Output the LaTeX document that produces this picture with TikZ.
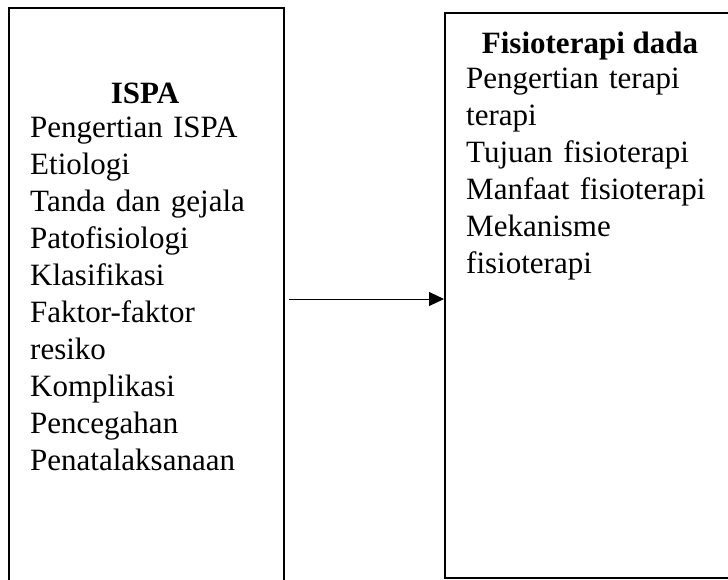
\documentclass[tikz,border=0pt]{standalone}
\usepackage{fontspec}
\setmainfont{Liberation Serif}
\usetikzlibrary{arrows.meta,positioning}

\begin{document}
\begin{tikzpicture}[
  x=1pt,y=-1pt,
  box/.style={rectangle, draw, line width=2pt, inner sep=0pt, anchor=north west},
  head/.style={inner sep=0pt, anchor=base, font=\fontsize{31}{37}\selectfont\bfseries},
  items/.style={inner sep=0pt, anchor=base west, text width=260pt, align=left,
    font=\fontsize{31}{37}\selectfont}
]
  \useasboundingbox (0,0) rectangle (728,579);
  \clip (0,0) rectangle (728,579);

  \node[box, minimum width=275pt, minimum height=600pt] (ispa) at (8,7) {};
  \node[box, minimum width=320pt, minimum height=565pt] (fisio) at (444,12) {};

  \node[head] (ispahead) at (145,103) {ISPA};
  \node[items] (ispalist) at (30,137) {Pengertian ISPA\\Etiologi\\Tanda dan gejala\\Patofisiologi\\Klasifikasi\\Faktor-faktor\\resiko\\Komplikasi\\Pencegahan\\Penatalaksanaan};

  \node[head] (fisiohead) at (590,53) {Fisioterapi dada};
  \node[items] (fisiolist) at (466,88) {Pengertian terapi\\terapi\\Tujuan fisioterapi\\Manfaat fisioterapi\\Mekanisme\\fisioterapi};

  \coordinate (arrowstart) at (289,299);
  \draw[line width=1pt, -{Triangle[length=15pt,width=14pt]}] (arrowstart) -- (arrowstart -| fisio.west);
\end{tikzpicture}
\end{document}
